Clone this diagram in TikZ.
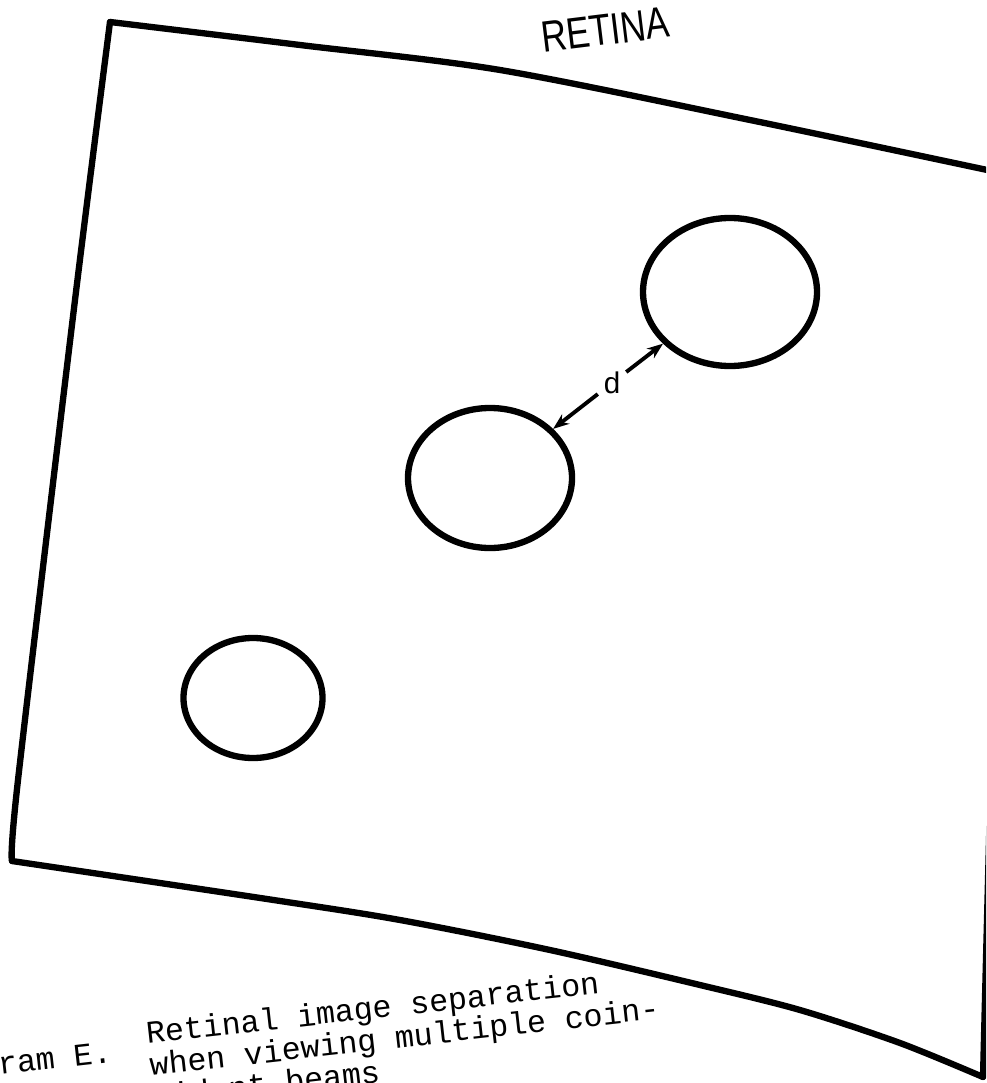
\documentclass[tikz,border=0pt]{standalone}
\usepackage{fontspec}
\newfontfamily\capfont{Liberation Mono}
\newfontfamily\retinafont{Liberation Sans}
\usetikzlibrary{arrows.meta, shapes.geometric}

\begin{document}
\begin{tikzpicture}[x=0.2mm, y=-0.2mm, >=Stealth,
    rim/.style={line width=3.6pt, line cap=round, line join=round},
    ring/.style={draw, ellipse, line width=3.6pt, inner sep=0pt},
    darrow/.style={->, line width=2.2pt, shorten <=1pt,
                   >={Stealth[length=3.2mm, width=2.4mm]}},
    captext/.style={anchor=base west, inner sep=0pt,
                    font=\capfont\fontsize{18pt}{18pt}\selectfont}]
  \useasboundingbox (0,0) rectangle (986,1083);
  \clip (0,0) rectangle (986,1083);

  % retina sheet, slightly bent edges
  \draw[rim] plot[smooth] coordinates
    {(110,22) (300,45) (500,70) (750,120) (1006,174)};
  \draw[rim] (1006,174) -- (983,1077);
  \draw[rim] plot[smooth] coordinates
    {(12,861) (267,899) (400,920) (550,950) (700,985) (800,1010) (900,1043) (983,1077)};
  \draw[rim] plot[smooth] coordinates
    {(110,22) (75,300) (18,780) (12,861)};

  \node[anchor=base, rotate=7, xscale=0.8,
        font=\retinafont\fontsize{25pt}{25pt}\selectfont] (title) at (607,45) {RETINA};

  % the three images on the retina
  \node[ring, minimum width=3.48cm, minimum height=2.96cm] (upper) at (730,292) {};
  \node[ring, minimum width=3.28cm, minimum height=2.8cm] (middle) at (490,478) {};
  \node[ring, minimum width=2.78cm, minimum height=2.4cm] (lower) at (253,698) {};

  % separation d
  \node[inner sep=2pt, font=\capfont\fontsize{17pt}{17pt}\selectfont] (dlab) at (612,383) {d};
  \draw[darrow] (dlab) -- (upper);
  \draw[darrow] (dlab) -- (middle);

  % caption, typed at a slant
  \begin{scope}[shift={(147,1044)}, rotate=6.4, transform shape]
    \node[captext, anchor=base east] (fignum) at (-36,14) {ram E.};
    \node[captext] (cap1) at (0,0) {Retinal image separation};
    \node[captext] (cap2) at (0,32) {when viewing multiple coin-};
    \node[captext] (cap3) at (0,64) {cident beams};
  \end{scope}
\end{tikzpicture}
\end{document}
